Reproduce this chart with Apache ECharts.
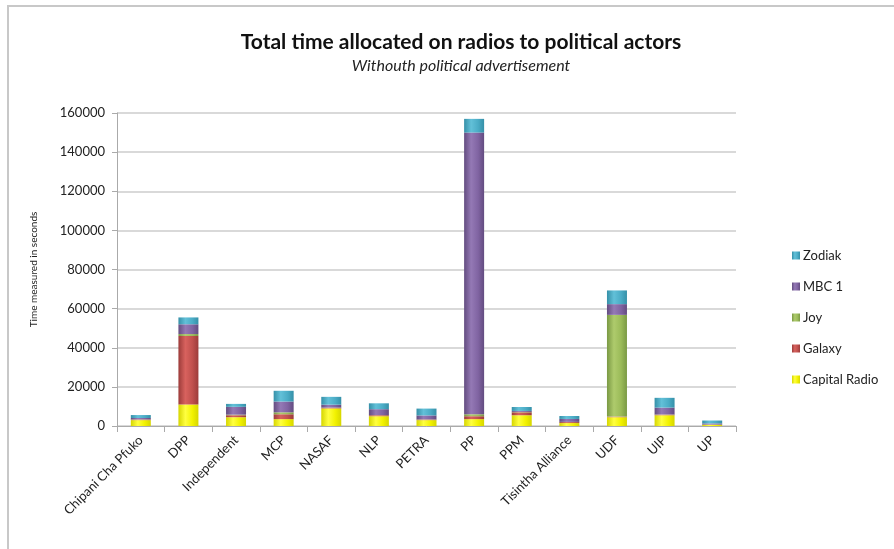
<!DOCTYPE html>
<html>
<head>
<meta charset="utf-8">
<script src="https://cdn.jsdelivr.net/npm/echarts@6/dist/echarts.min.js"></script>
<style>
  html, body { margin: 0; padding: 0; background: #fff; }
  #chart { width: 894px; height: 549px; }
</style>
</head>
<body>
<div id="chart"></div>
<script>
const parties = ['Chipani Cha Pfuko', 'DPP', 'Independent', 'MCP', 'NASAF', 'NLP', 'PETRA',
  'PP', 'PPM', 'Tisintha Alliance', 'UDF', 'UIP', 'UP'];

// seconds per radio station
const capitalRadio = [3000, 11000, 4500, 3500, 9000, 5000, 3000, 3500, 5500, 1500, 4500, 5500, 500];
const galaxy       = [300, 35000, 1000, 2500, 300, 500, 300, 1500, 1500, 500, 300, 300, 200];
const joy          = [100, 1000, 300, 1000, 100, 100, 100, 1000, 200, 100, 52000, 100, 100];
const mbc1         = [700, 5000, 4000, 5500, 1500, 3000, 2000, 144000, 500, 1500, 5500, 3500, 500];
const zodiak       = [1500, 3500, 1500, 5500, 4000, 3000, 3500, 7000, 2000, 1500, 7000, 5000, 1500];

const yTicks = [0, 20000, 40000, 60000, 80000, 100000, 120000, 140000, 160000];

const chart = echarts.init(document.getElementById('chart'), null, { renderer: 'canvas' });

function cylinder(dark, mid, light) {
  return new echarts.graphic.LinearGradient(0, 0, 1, 0, [
    { offset: 0, color: dark },
    { offset: 0.35, color: light },
    { offset: 0.7, color: mid },
    { offset: 1, color: dark }
  ]);
}

const stations = [
  { name: 'Capital Radio', data: capitalRadio, color: '#ffff00', fill: cylinder('#d6d600', '#f2f200', '#ffff40') },
  { name: 'Galaxy', data: galaxy, color: '#c0504d', fill: cylinder('#9c3c3a', '#c0504d', '#d8625e') },
  { name: 'Joy', data: joy, color: '#9bbb59', fill: cylinder('#7a9944', '#9bbb59', '#aecb6c') },
  { name: 'MBC 1', data: mbc1, color: '#8064a2', fill: cylinder('#634c80', '#8064a2', '#9479b5') },
  { name: 'Zodiak', data: zodiak, color: '#4bacc6', fill: cylinder('#3590a8', '#4bacc6', '#62c0d8') }
];

const option = {
  backgroundColor: '#fff',
  textStyle: { fontFamily: 'Lato, "Open Sans", sans-serif' },
  title: {
    text: 'Total time allocated on radios to political actors',
    subtext: 'Withouth political advertisement',
    left: 456,
    textAlign: 'center',
    top: 27,
    itemGap: 5,
    textStyle: { fontSize: 21, fontWeight: 'bold', color: '#111' },
    subtextStyle: { fontSize: 16, fontStyle: 'italic', color: '#222' }
  },
  graphic: [{
    type: 'rect',
    shape: { x: 8, y: 6, width: 900, height: 560 },
    style: { fill: 'none', stroke: '#c8c8c8', lineWidth: 2 },
    silent: true
  }],
  legend: {
    orient: 'vertical',
    left: 787,
    top: 244,
    itemWidth: 8,
    itemHeight: 8,
    itemGap: 18,
    icon: 'rect',
    data: ['Zodiak', 'MBC 1', 'Joy', 'Galaxy', 'Capital Radio'],
    textStyle: { fontSize: 13, color: '#222', padding: [0, 0, 0, -2] }
  },
  grid: {
    left: 117,
    right: 158,
    top: 113,
    bottom: 123
  },
  xAxis: {
    type: 'category',
    data: parties,
    axisLine: { lineStyle: { color: '#aaa', width: 1 } },
    axisTick: { show: true, alignWithLabel: false, length: 6, lineStyle: { color: '#aaa' } },
    axisLabel: {
      rotate: 45,
      interval: 0,
      fontSize: 13,
      color: '#222',
      margin: 12
    }
  },
  yAxis: {
    type: 'value',
    min: yTicks[0],
    max: yTicks[yTicks.length - 1],
    interval: yTicks[1] - yTicks[0],
    name: 'Time measured in seconds',
    nameLocation: 'middle',
    nameGap: 78,
    nameTextStyle: { fontSize: 10, color: '#222' },
    axisLine: { show: true, lineStyle: { color: '#aaa', width: 1 } },
    axisTick: { show: true, length: 5, lineStyle: { color: '#aaa' } },
    axisLabel: { fontSize: 13, color: '#222', margin: 12, formatter: v => String(v) },
    splitLine: { lineStyle: { color: '#d9d9d9', width: 2 } }
  },
  series: stations.map(s => ({
    name: s.name,
    type: 'bar',
    stack: 'total',
    barWidth: 20,
    data: s.data,
    itemStyle: { color: s.fill },
    emphasis: { disabled: true }
  })),
  color: stations.map(s => s.color),
  animation: false
};

chart.setOption(option);
</script>
</body>
</html>
